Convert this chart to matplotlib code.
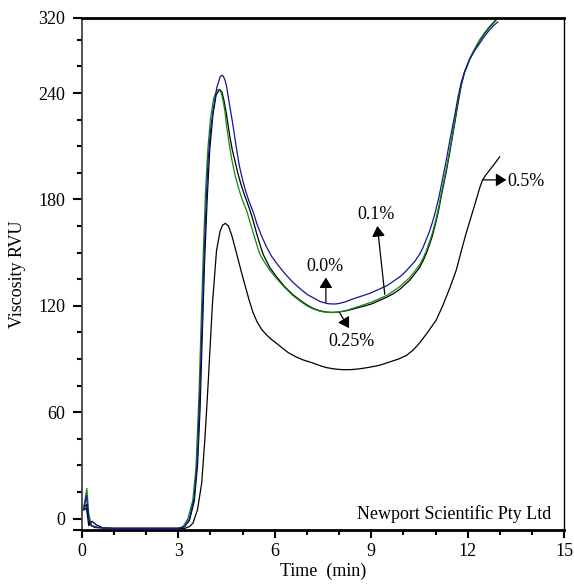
import matplotlib
matplotlib.use("Agg")
import matplotlib.pyplot as plt
from matplotlib.ticker import FixedLocator, MultipleLocator

plt.rcParams["font.family"] = ["Liberation Serif", "DejaVu Serif"]

# RVA pasting curves (time in min, viscosity in RVU)
t_00 = [0, 0.08, 0.15, 0.22, 0.3, 0.5, 1.0, 2.0, 3.0, 3.2, 3.35, 3.5, 3.6, 3.67,
        3.75, 3.81, 3.87, 3.93, 4.0, 4.09, 4.2, 4.3, 4.35, 4.4, 4.45, 4.5, 4.6,
        4.7, 4.8, 4.9, 5.0, 5.1, 5.2, 5.33, 5.45, 5.6, 5.75, 5.9, 6.1, 6.3, 6.55,
        6.8, 7.0, 7.2, 7.4, 7.65, 7.85, 8.0, 8.2, 8.45, 8.7, 8.95, 9.2, 9.5, 9.7,
        9.9, 10.05, 10.2, 10.35, 10.5, 10.6, 10.7, 10.8, 10.9, 11.0, 11.1, 11.2,
        11.33, 11.45, 11.6, 11.7, 11.8, 11.9, 12.06, 12.2, 12.37, 12.5, 12.65,
        12.8, 12.93]
v_00 = [4, 6, 13, 0, -4, -5, -5.5, -5.5, -5.5, -4.5, 0, 12, 35, 70,
        115, 150, 178, 202, 218, 231, 243, 249, 250, 249.5, 247.5, 244, 233,
        222, 210, 199, 191, 184.5, 179, 173, 166, 159, 153, 148, 143, 138.5, 133.5,
        129.5, 126.5, 124.5, 122.5, 121.2, 121, 121.3, 122.3, 124, 125.5, 127, 129, 131.5, 134,
        136.5, 139, 142, 145, 149, 152.5, 157, 161.5, 167, 173.5, 181, 190,
        202, 214, 228, 238, 246, 252, 259, 263.5, 268, 271.5, 275,
        278, 280]

t_01 = [0, 0.08, 0.15, 0.22, 0.32, 0.45, 0.7, 1.0, 2.0, 3.0, 3.2, 3.35, 3.5, 3.6,
        3.68, 3.75, 3.82, 3.9, 3.98, 4.08, 4.18, 4.29, 4.36, 4.42, 4.5, 4.6, 4.68,
        4.76, 4.85, 4.95, 5.05, 5.15, 5.23, 5.33, 5.45, 5.55, 5.64, 5.75, 5.85, 6.05,
        6.3, 6.55, 6.8, 7.0, 7.2, 7.4, 7.6, 7.8, 8.0, 8.25, 8.5, 8.75, 9.0, 9.25,
        9.5, 9.7, 9.9, 10.05, 10.2, 10.35, 10.5, 10.6, 10.7, 10.8, 10.9, 11.0,
        11.1, 11.2, 11.33, 11.45, 11.6, 11.7, 11.8, 11.9, 12.06, 12.2, 12.37, 12.5,
        12.65, 12.8, 12.9]
v_01 = [5, 5, 6, -4, -1.5, -3.5, -5.5, -5.5, -5.5, -5.5, -4.5, -1, 10, 30,
        62, 105, 145, 180, 208, 228, 239, 242, 240.5, 236, 228, 216, 208,
        202, 195, 188.5, 183, 178, 174, 168, 160, 154, 149, 145, 141.5, 136.5,
        131, 126.5, 123, 120.5, 118.5, 117.2, 116.5, 116.3, 116.5, 117.3, 118.5, 119.7, 121, 123,
        125, 127, 129.5, 132, 134.5, 138, 141.5, 145, 149, 154, 159.5, 166.5,
        174.5, 184, 195.5, 207.5, 223.5, 234.5, 244.5, 251.5, 259, 264, 269.5, 273,
        276.5, 279.5, 281.5]

t_025 = [0, 0.08, 0.16, 0.22, 0.3, 0.5, 1.0, 2.0, 3.0, 3.15, 3.3, 3.45, 3.55, 3.65,
         3.72, 3.78, 3.85, 3.92, 4.0, 4.1, 4.2, 4.26, 4.33, 4.38, 4.45, 4.5, 4.58,
         4.66, 4.75, 4.85, 4.95, 5.05, 5.12, 5.22, 5.35, 5.45, 5.54, 5.7, 5.85, 6.05,
         6.3, 6.55, 6.8, 7.0, 7.2, 7.4, 7.6, 7.8, 8.0, 8.25, 8.5, 8.75, 9.0, 9.25,
         9.5, 9.7, 9.9, 10.05, 10.2, 10.35, 10.5, 10.6, 10.7, 10.8, 10.9, 11.0,
         11.1, 11.2, 11.33, 11.45, 11.6, 11.7, 11.8, 11.9, 12.06, 12.2, 12.37, 12.5,
         12.65, 12.8, 12.9]
v_025 = [5, 8, 17, 3, -4, -5, -5.5, -5.5, -5.5, -4.5, 0, 10, 28, 72,
         115, 150, 185, 208, 225, 237, 241.5, 242, 240.5, 237, 230, 222, 212,
         203, 195, 188, 182, 177, 174, 168, 160, 154, 149, 144, 140, 135.5,
         130.5, 126, 122.5, 120, 118.2, 117, 116.3, 116.2, 116.5, 117.5, 119, 120.5, 122, 124,
         126, 128.5, 131, 133.5, 136, 139.5, 143, 146.5, 150.5, 155.5, 161, 168,
         176, 185.5, 197, 209, 225, 236, 245.5, 252, 259.5, 264.5, 270, 273.5,
         277, 280, 282]

t_05 = [0, 0.15, 0.25, 0.4, 1.0, 2.0, 3.0, 3.2, 3.35, 3.46, 3.6, 3.73, 3.83, 3.93,
        4.06, 4.19, 4.3, 4.38, 4.47, 4.56, 4.66, 4.75, 4.85, 4.95, 5.07, 5.2, 5.32,
        5.45, 5.6, 5.75, 5.9, 6.06, 6.25, 6.42, 6.65, 6.88, 7.18, 7.4, 7.6, 7.85,
        8.1, 8.35, 8.6, 8.9, 9.26, 9.6, 9.85, 10.09, 10.3, 10.5, 10.75, 11.02, 11.22,
        11.44, 11.64, 11.8, 11.95, 12.1, 12.25, 12.38, 12.46, 12.55, 12.7, 12.85, 12.99]
v_05 = [4, 8, -3, -5, -5.5, -5.5, -5.5, -5.5, -4.5, -2.5, 5, 20, 45, 76,
        120, 151, 162, 165.5, 166.5, 165, 160, 154, 147, 140, 132, 123.5, 116.5,
        111, 106.5, 103.5, 101, 98.8, 96, 93.6, 91.3, 89.5, 87.8, 86.3, 85.2, 84.4,
        84, 84, 84.4, 85.2, 86.5, 88.5, 90, 92, 95, 99, 105, 112, 120,
        130, 140, 151, 161, 170, 179, 187, 191, 193.5, 197, 200.5, 204]

y_ticks = [0, 60, 120, 180, 240]
y_top = 282.3
y_bottom = -6.4

fig = plt.figure(figsize=(5.74, 5.86), dpi=100)
ax = fig.add_axes([0.1423, 0.0956, 0.8408, 0.8737])

ax.plot(t_05, v_05, color="black", lw=0.9)
ax.plot(t_01, v_01, color="black", lw=0.9)
ax.plot(t_025, v_025, color="#108a10", lw=0.9)
ax.plot(t_00, v_00, color="#14149a", lw=0.9)

ax.set_xlim(0, 15)
ax.set_ylim(y_bottom, y_top)

# major ticks, incl. the oddly labelled top of the axis
ax.yaxis.set_major_locator(FixedLocator([y_bottom] + y_ticks + [y_top]))
ax.set_yticklabels([""] + [str(v) for v in y_ticks] + ["320"])
ax.yaxis.set_minor_locator(FixedLocator([v for v in range(15, 285, 15) if v % 60 != 0]))
ax.xaxis.set_major_locator(MultipleLocator(3))
ax.xaxis.set_minor_locator(MultipleLocator(1))

ax.tick_params(axis="y", which="major", length=6.8, width=1.5, pad=5, labelsize=13)
ax.tick_params(axis="y", which="minor", length=3.8, width=1.5)
ax.tick_params(axis="x", which="major", length=5.8, width=1.5, pad=3.5, labelsize=13)
ax.tick_params(axis="x", which="minor", length=3.6, width=1.5)

ax.spines["top"].set_linewidth(2.0)
ax.spines["bottom"].set_linewidth(2.0)
ax.spines["left"].set_linewidth(1.3)
ax.spines["left"].set_color("#444444")
ax.spines["right"].set_linewidth(1.0)

ax.set_xlabel("Time  (min)", fontsize=13, labelpad=2)
ax.set_ylabel("Viscosity RVU", fontsize=13, labelpad=9)

arrow = dict(arrowstyle="-|>,head_length=0.45,head_width=0.28", color="black",
             lw=0.9, mutation_scale=14, shrinkA=0, shrinkB=0)
ax.annotate("", xy=(7.59, 136), xytext=(7.59, 122), arrowprops=arrow)
ax.annotate("", xy=(9.19, 165), xytext=(9.42, 126.5), arrowprops=arrow)
ax.annotate("", xy=(8.31, 107.4), xytext=(8.02, 116), arrowprops=arrow)
ax.annotate("", xy=(13.2, 191), xytext=(12.47, 191), arrowprops=arrow)

ax.text(7.56, 142, "0.0%", fontsize=13, ha="center", va="center")
ax.text(9.16, 171.3, "0.1%", fontsize=13, ha="center", va="center")
ax.text(8.38, 99.8, "0.25%", fontsize=13, ha="center", va="center")
ax.text(13.22, 190, "0.5%", fontsize=13, ha="left", va="center")

ax.text(14.6, 2.5, "Newport Scientific Pty Ltd", fontsize=13, ha="right", va="center")

fig.savefig("out.png", dpi=100)
